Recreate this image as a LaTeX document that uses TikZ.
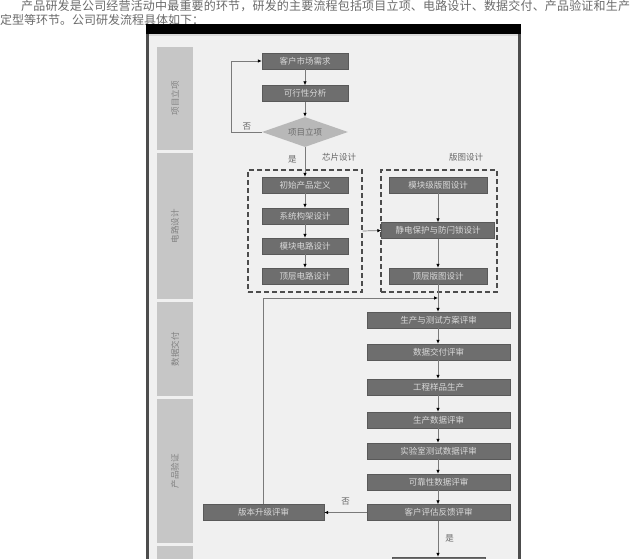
\documentclass[tikz,border=0pt]{standalone}
\usepackage{fontspec}
\setmainfont{Noto Sans CJK SC}
\usetikzlibrary{arrows.meta,shapes.geometric}
\definecolor{pagebg}{HTML}{F0F0F0}
\definecolor{lanegray}{HTML}{C6C6C6}
\definecolor{boxgray}{HTML}{6E6E6E}
\definecolor{diagray}{HTML}{B8B8B8}
\definecolor{linegray}{HTML}{7A7A7A}
\definecolor{textgray}{HTML}{6A6A6A}
\begin{document}
\begin{tikzpicture}[x=1pt,y=-1pt,
    proc/.style={draw=black!65,fill=boxgray,text=black!15,minimum height=16pt,inner sep=0pt,font=\fontsize{8.5}{10}\selectfont},
    decide/.style={diamond,aspect=2.87,fill=diagray,text=textgray,minimum width=86pt,minimum height=30pt,inner sep=0pt,font=\fontsize{8.5}{10}\selectfont},
    lane/.style={fill=lanegray,text=black!50,rotate=90,minimum height=36pt,inner sep=0pt,font=\fontsize{8.5}{10}\selectfont},
    group/.style={draw=black!70,dashed,dash pattern=on 5pt off 3pt,line width=1.1pt,minimum height=122pt,inner sep=0pt},
    conn/.style={draw=linegray,line width=0.7pt,-{Latex[length=4pt,width=3.5pt,black]}},
    tag/.style={text=black!60,font=\fontsize{8.5}{10}\selectfont,inner sep=1pt}]
    \path[use as bounding box,clip] (0,0) rectangle (634,559);
    % intro text
    \node[anchor=west,text=textgray,inner sep=0pt,font=\fontsize{12}{14}\selectfont\addfontfeatures{LetterSpace=1.5}] (intro1) at (21,6.5) {产品研发是公司经营活动中最重要的环节，研发的主要流程包括项目立项、电路设计、数据交付、产品验证和生产};
    \node[anchor=west,text=textgray,font=\fontsize{12}{14}\selectfont,inner sep=0pt] (intro2) at (0,19.5) {定型等环节。公司研发流程具体如下：};
    % frame
    \fill[pagebg] (147,24) rectangle (521,570);
    \fill[black] (146,24) rectangle (521,34);
    \fill[white!85!black] (149,34) rectangle (518,36);
    \fill[black!70] (146,34) rectangle (149,570);
    \fill[black!70] (518,34) rectangle (521,570);
    % lanes
    \node[lane,minimum width=103pt] (l1) at (175,98.5) {项目立项};
    \node[lane,minimum width=146pt] (l2) at (175,226) {电路设计};
    \node[lane,minimum width=94pt] (l3) at (175,349) {数据交付};
    \node[lane,minimum width=144pt] (l4) at (175,471) {产品验证};
    \node[lane,minimum width=40pt] (l5) at (175,566) {};
    % project
    \node[proc,minimum width=86pt] (req) at (305,61) {客户市场需求};
    \node[proc,minimum width=86pt] (feas) at (305,93.5) {可行性分析};
    \node[decide] (dec) at (305,132) {项目立项};
    % circuit design
    \node[group,minimum width=114pt] (chip) at (305,231) {};
    \node[group,minimum width=116pt] (layout) at (439,231) {};
    \node[tag] (chiplbl) at (339,157) {芯片设计};
    \node[tag] (laylbl) at (466,157) {版图设计};
    \node[proc,minimum width=86pt] (def) at (305,185) {初始产品定义};
    \node[proc,minimum width=86pt] (arch) at (305,216) {系统构架设计};
    \node[proc,minimum width=86pt] (modc) at (305,246) {模块电路设计};
    \node[proc,minimum width=86pt] (topc) at (305,276) {顶层电路设计};
    \node[proc,minimum width=98pt] (modl) at (438,185) {模块级版图设计};
    \node[proc,minimum width=113pt] (esd) at (438,230.5) {静电保护与防闩锁设计};
    \node[proc,minimum width=98pt] (topl) at (438,276) {顶层版图设计};
    % data delivery and verification
    \node[proc,minimum width=143pt] (plan) at (438.5,320) {生产与测试方案评审};
    \node[proc,minimum width=143pt] (deliv) at (438.5,352) {数据交付评审};
    \node[proc,minimum width=143pt] (eng) at (438.5,387) {工程样品生产};
    \node[proc,minimum width=143pt] (pdat) at (438.5,420) {生产数据评审};
    \node[proc,minimum width=143pt] (lab) at (438.5,451) {实验室测试数据评审};
    \node[proc,minimum width=143pt] (rel) at (438.5,482) {可靠性数据评审};
    \node[proc,minimum width=143pt] (cust) at (438.5,512.5) {客户评估反馈评审};
    \node[proc,minimum width=121pt] (upg) at (263.5,512.5) {版本升级评审};
    \node[proc,minimum width=93pt] (fin) at (438.5,565) {};
    \coordinate (join) at (438,298);
    % connectors
    \draw[conn] (req) -- (feas);
    \draw[conn] (feas) -- (dec);
    \draw[conn] (dec.west) -- node[tag,above]{否} ++(-30,0) |- (req.west);
    \draw[conn] (dec.south) -- node[tag,left=7pt,pos=0.4]{是} (def.north);
    \draw[conn] (def) -- (arch);
    \draw[conn] (arch) -- (modc);
    \draw[conn] (modc) -- (topc);
    \draw[conn] (modl) -- (modl |- esd.north);
    \draw[conn] (esd.south -| topl) -- (topl);
    \draw[conn] (chip.east) -- (esd.west);
    \draw[conn] (topl.south) -- (topl.south |- plan.north);
    \draw[conn] (upg.north) |- (join);
    \draw[conn] (plan.south -| join) -- (deliv.north -| join);
    \draw[conn] (deliv.south -| join) -- (eng.north -| join);
    \draw[conn] (eng.south -| join) -- (pdat.north -| join);
    \draw[conn] (pdat.south -| join) -- (lab.north -| join);
    \draw[conn] (lab.south -| join) -- (rel.north -| join);
    \draw[conn] (rel.south -| join) -- (cust.north -| join);
    \draw[conn] (cust.west) -- node[tag,above=6pt]{否} (upg.east);
    \draw[conn] (cust.south -| join) -- node[tag,right=6pt]{是} (fin.north -| join);
\end{tikzpicture}
\end{document}
